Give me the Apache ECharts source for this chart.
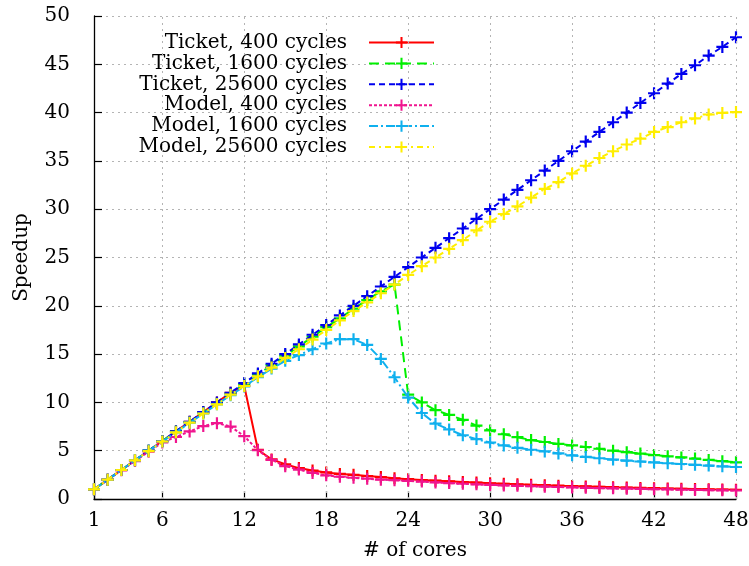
<!DOCTYPE html>
<html>
<head>
<meta charset="utf-8">
<script src="https://cdn.jsdelivr.net/npm/echarts@6/dist/echarts.min.js"></script>
<style>html,body{margin:0;padding:0;background:#fff}#c{width:749px;height:566px}</style>
</head>
<body>
<div id="c"></div>
<script>
const cores = [1,2,3,4,5,6,7,8,9,10,11,12,13,14,15,16,17,18,19,20,21,22,23,24,25,26,27,28,29,30,31,32,33,34,35,36,37,38,39,40,41,42,43,44,45,46,47,48];
const xTicks = [1,6,12,18,24,30,36,42,48];
const xGrid = [6,12,18,24,30,36,42,48];
const seriesNames = ['Ticket, 400 cycles','Ticket, 1600 cycles','Ticket, 25600 cycles','Model, 400 cycles','Model, 1600 cycles','Model, 25600 cycles'];
const ticket400 = [1,2,3,4,5,6,7,8,9,10,11,11.7,5.1,4.1,3.6,3.2,2.95,2.75,2.6,2.5,2.38,2.27,2.15,2.05,1.97,1.9,1.83,1.76,1.7,1.63,1.58,1.52,1.47,1.43,1.38,1.34,1.3,1.26,1.22,1.19,1.15,1.12,1.09,1.06,1.03,1.0,0.98,0.96];
const ticket1600 = [1,2,3,4,5,6,7,7.95,8.95,9.95,10.9,11.9,12.9,13.85,14.85,15.8,16.8,17.8,18.7,19.7,20.6,21.5,22.2,10.8,10.0,9.2,8.7,8.2,7.6,7.1,6.7,6.4,6.1,5.9,5.7,5.55,5.38,5.2,5.0,4.85,4.7,4.55,4.42,4.3,4.18,4.05,3.92,3.8];
const ticket25600 = [1,2,3,4,5,6,7,8,9,10,11,12,13,14,15,16,17,18,19,20,21,22,23,24,25,26,27,28,29,30,31,32,33,34,35,36,37,38,39,40,41,42,43,44,44.9,45.9,46.8,47.8];
const model400 = [1,2,2.97,3.93,4.9,5.86,6.42,7.0,7.55,7.85,7.5,6.5,5.05,4.05,3.4,3.05,2.7,2.45,2.3,2.2,2.1,2.0,1.95,1.88,1.8,1.72,1.65,1.58,1.52,1.46,1.41,1.36,1.32,1.28,1.24,1.2,1.16,1.13,1.1,1.07,1.04,1.01,0.99,0.96,0.94,0.92,0.9,0.88];
const model1600 = [1,2,3,4,5,5.95,6.9,7.9,8.85,9.8,10.75,11.65,12.6,13.5,14.3,14.9,15.5,16.1,16.55,16.55,15.95,14.5,12.6,10.5,8.9,7.8,7.2,6.6,6.2,5.85,5.55,5.3,5.1,4.93,4.72,4.52,4.36,4.22,4.08,3.97,3.88,3.79,3.7,3.62,3.54,3.46,3.38,3.31];
const model25600 = [1,2,3,4,4.95,5.95,6.9,7.9,8.85,9.8,10.8,11.7,12.7,13.6,14.6,15.5,16.5,17.5,18.5,19.45,20.35,21.3,22.2,23.2,24.1,25.0,25.9,26.8,27.8,28.7,29.5,30.3,31.2,32.1,32.8,33.7,34.5,35.3,36.0,36.7,37.3,38.0,38.5,39.0,39.4,39.8,39.97,40.05];

const allValues = [ticket400, ticket1600, ticket25600, model400, model1600, model25600];
const colors = ['#ff0000','#00f000','#0000ee','#f0158f','#0fb0ee','#ffee00'];
const dashes = ['solid',[10,6],[6,4],[3,2],[9,3,2,3],[6,4,2,4]];
const FONT = '"DejaVu Serif", "Liberation Serif", serif';
const FS = 20;
const plus = 'path://M4.5,0h2v4.5h4.5v2h-4.5v4.5h-2v-4.5h-4.5v-2h4.5z';

const chart = echarts.init(document.getElementById('c'), null, {renderer:'canvas'});

const series = [{
  type:'line', name:'_grid', data:[], silent:true,
  markLine:{silent:true, symbol:['none','none'], label:{show:false},
    lineStyle:{color:'#b4b4b4', width:1, type:[2,4]},
    emphasis:{disabled:true},
    data: xGrid.map(v=>({xAxis:v}))}
}];
allValues.forEach((vals,i)=>{
  series.push({
    type:'line', name:seriesNames[i],
    data: cores.map((c,j)=>[c, vals[j]]),
    symbol: plus, symbolSize: 12, showAllSymbol:true,
    lineStyle:{color:colors[i], width:2, type:dashes[i]},
    itemStyle:{color:colors[i]},
    emphasis:{disabled:true},
    z: 2+i
  });
});

const legends = seriesNames.map((n,i)=>({
  data:[n], orient:'vertical', right:314, top:32.5+i*20.9, align:'right', padding:0,
  itemWidth:65, itemHeight:14, selectedMode:false,
  textStyle:{fontFamily:FONT, fontSize:FS, color:'#000', padding:[0,17,0,0]}
}));

chart.setOption({
  animation:false,
  backgroundColor:'#fff',
  grid:{left:94, right:13, top:16, bottom:67, outerBoundsMode:'none', containLabel:false},
  legend: legends,
  xAxis:{
    type:'value', min:1, max:48,
    name:'# of cores', nameLocation:'middle', nameGap:42, nameMoveOverlap:false,
    nameTextStyle:{fontFamily:FONT, fontSize:FS, color:'#000'},
    axisLine:{lineStyle:{color:'#000', width:1.3}},
    axisTick:{inside:true, length:8, customValues:xTicks, lineStyle:{color:'#000', width:1.2}},
    axisLabel:{customValues:xTicks, fontFamily:FONT, fontSize:FS, color:'#000', margin:12},
    splitLine:{show:false}
  },
  yAxis:{
    type:'value', min:0, max:50, interval:5,
    name:'Speedup', nameLocation:'middle', nameGap:62, nameMoveOverlap:false,
    nameTextStyle:{fontFamily:FONT, fontSize:FS, color:'#000'},
    axisLine:{show:true, lineStyle:{color:'#000', width:1.3}},
    axisTick:{show:true, inside:true, length:8, lineStyle:{color:'#000', width:1.2}},
    axisLabel:{fontFamily:FONT, fontSize:FS, color:'#000', margin:24},
    splitLine:{show:true, lineStyle:{color:'#b4b4b4', width:1, type:[2,4]}}
  },
  series: series
});
</script>
</body>
</html>
